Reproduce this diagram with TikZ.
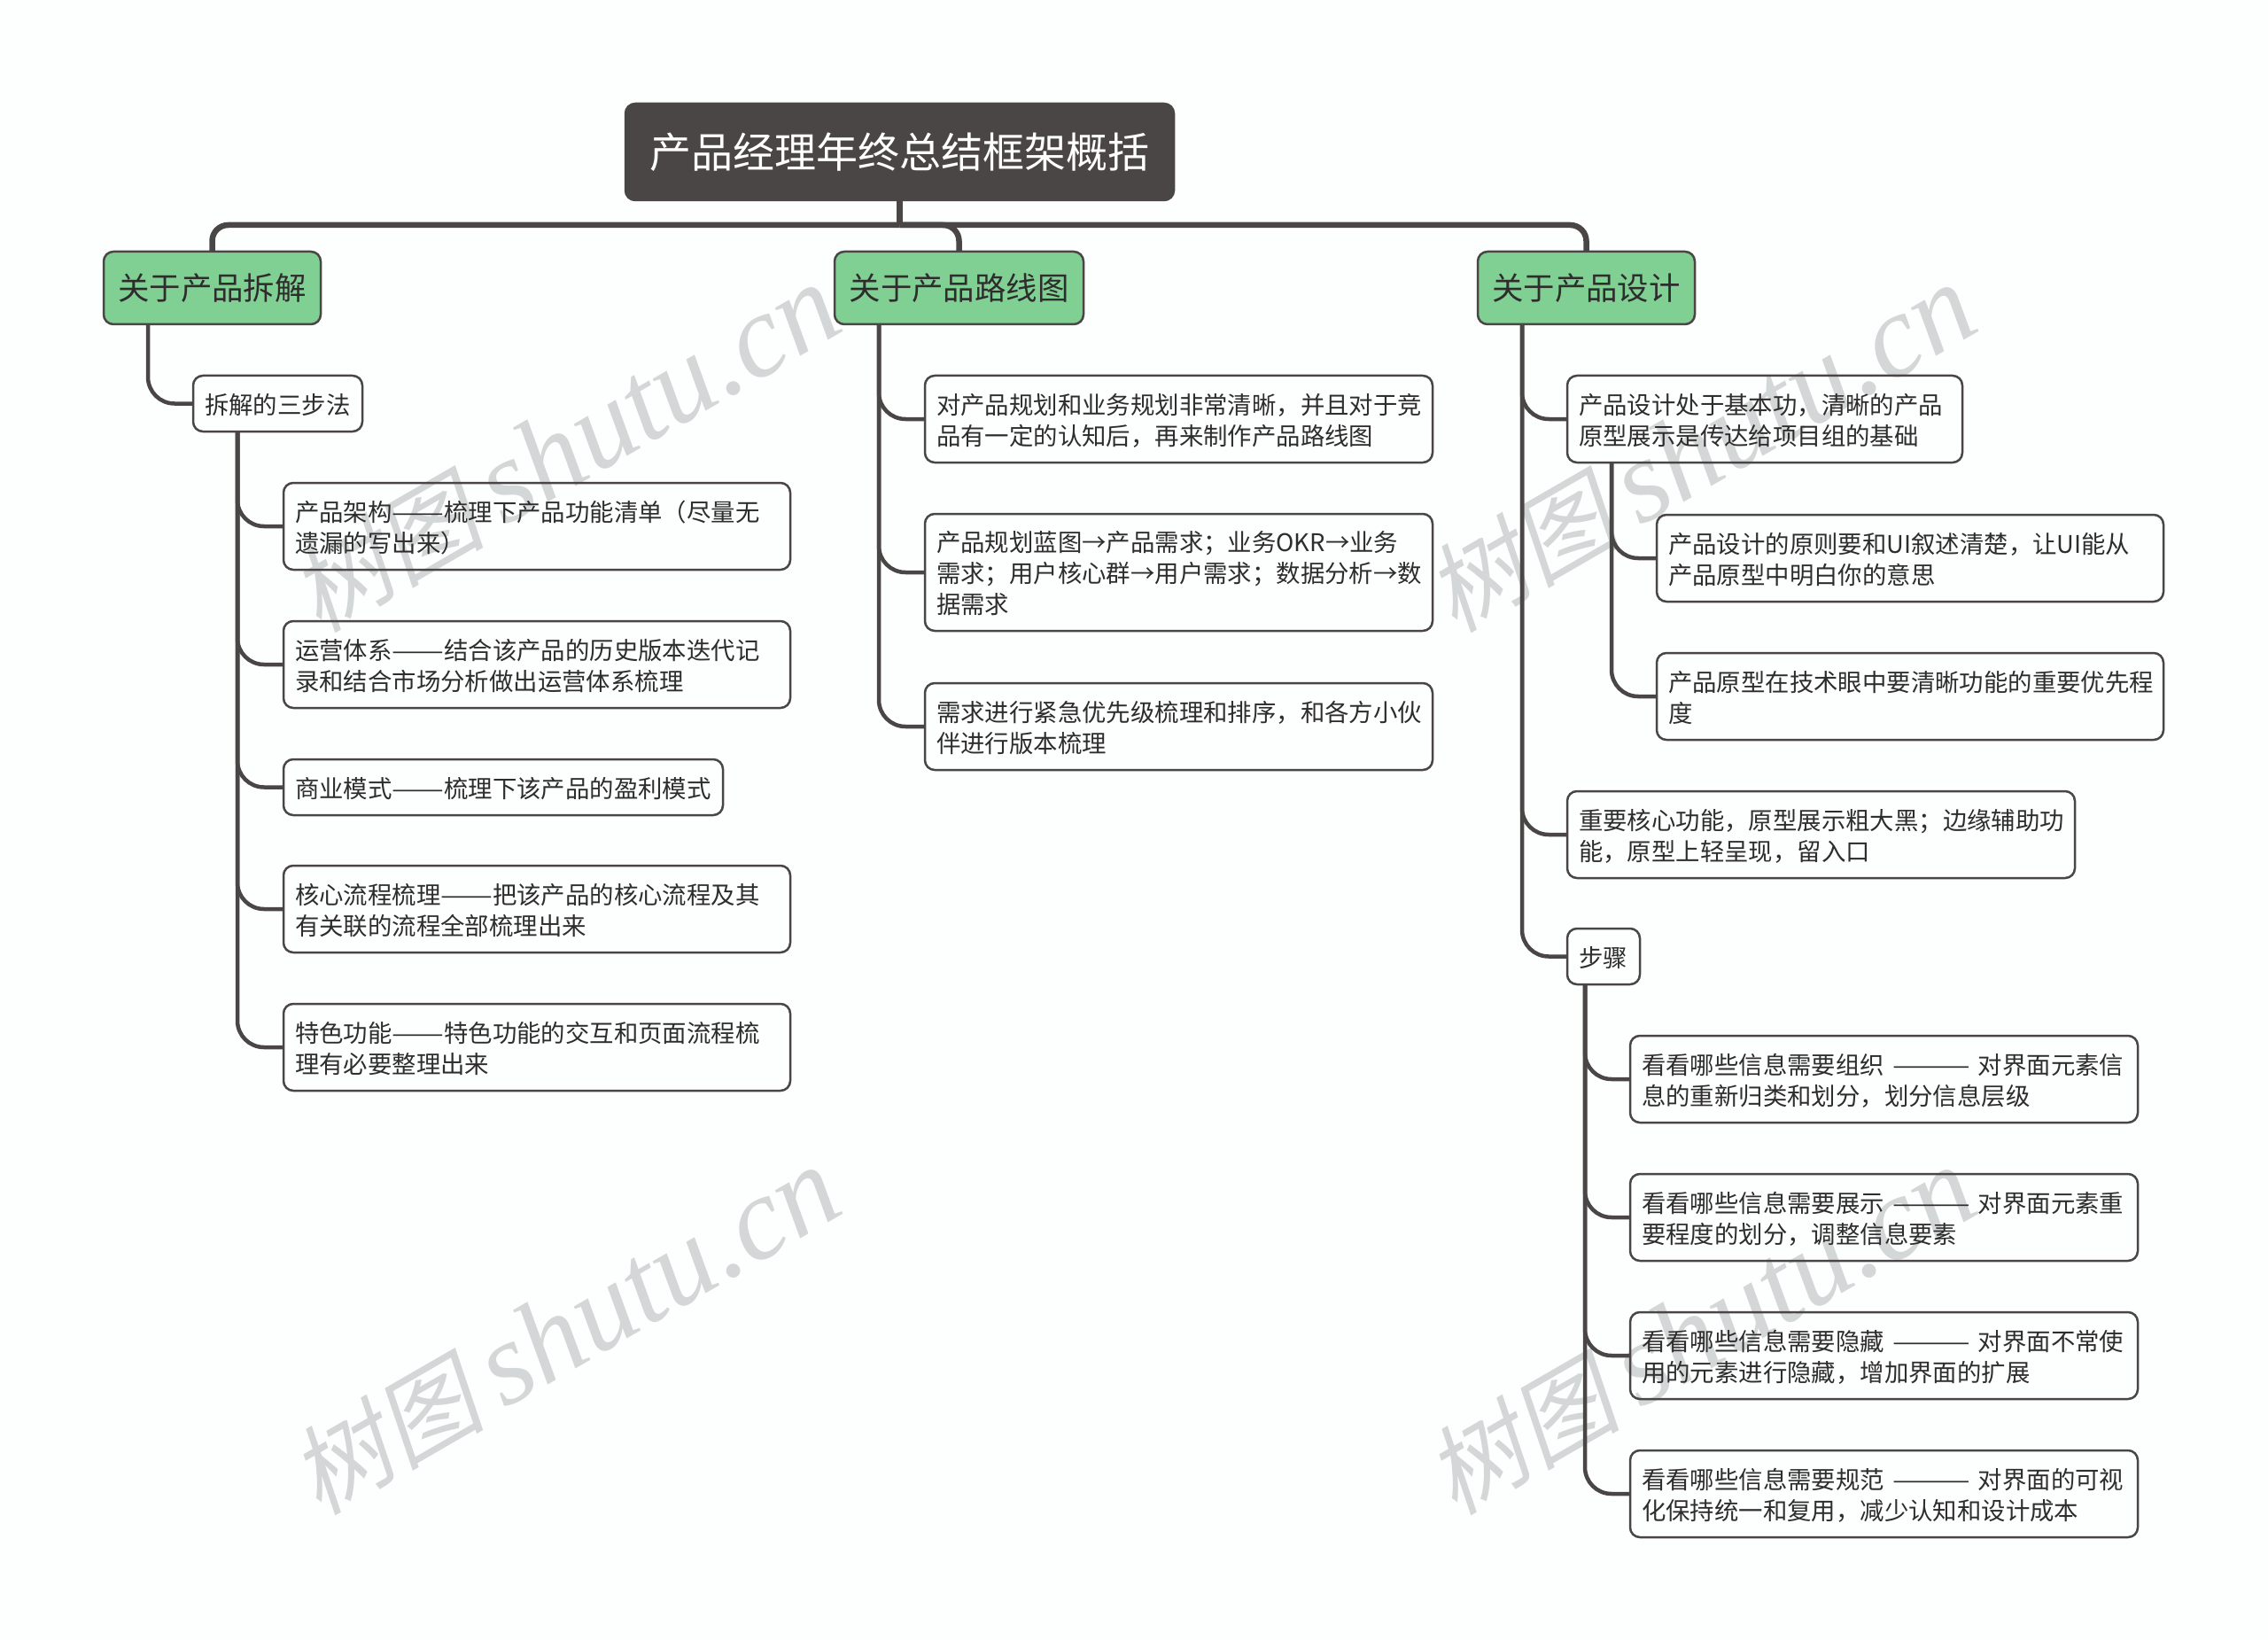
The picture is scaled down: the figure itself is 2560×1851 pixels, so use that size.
\documentclass[tikz,border=0pt]{standalone}
\usepackage{graphicx}
\usepackage{fontspec}
\setmainfont{Noto Sans CJK SC}
\newfontfamily\markcjk[FakeSlant=0.2]{Noto Sans CJK SC}
\newfontfamily\marklatin{Liberation Serif}
\usepackage{tikz}
\definecolor{slate}{HTML}{4B4646}
\definecolor{leafgreen}{HTML}{80CF93}
\definecolor{paper}{HTML}{FCFFFE}
\definecolor{markgray}{HTML}{D3D7D7}
\definecolor{inktext}{HTML}{2E2C2C}
\newcommand{\twodash}{\scalebox{1.28}[1]{——}}
\newcommand{\threedash}{\scalebox{1.3}[1]{———}}
\tikzset{
  rootbox/.style={draw=slate, fill=slate, line width=2.5pt, rounded corners=11pt, text=white,
    minimum width=619pt, minimum height=109pt, inner sep=0pt, outer sep=0pt,
    font=\fontsize{47}{56}\selectfont},
  topicbox/.style={draw=slate, fill=leafgreen, line width=2.5pt, rounded corners=11pt, text=inktext,
    minimum height=82pt, inner sep=0pt, outer sep=0pt, anchor=north west,
    font=\fontsize{35.4}{44}\selectfont},
  leafbox/.style={draw=slate, line width=2.5pt, rounded corners=11pt, text=inktext,
    minimum height=98pt, inner xsep=13pt, inner ysep=0pt, outer sep=0pt, anchor=north west,
    align=left, font=\fontsize{27.4}{35}\selectfont,
    execute at begin node=\rule{0pt}{26pt}},
  shortbox/.style={leafbox, minimum height=63pt},
  bigwire/.style={draw=slate, line width=6.5pt, rounded corners=18pt},
  wire/.style={draw=slate, line width=4.5pt, rounded corners=30pt},
  markbox/.style={text=markgray, rotate=30, anchor=base west, inner sep=0pt,
    font=\fontsize{133}{133}\selectfont}
}
\begin{document}
\begin{tikzpicture}[x=1pt, y=-1pt]
  \fill[paper] (0,0) rectangle (2560,1851);
  \useasboundingbox (0,0) rectangle (2560,1851);
  % watermarks sit under the boxes
  \foreach \name/\px/\py in {a/360/716, b/1642/716, c/360/1712, d/1642/1712}
    \node[markbox] (mark\name) at (\px,\py) {{\fontsize{110}{133}\selectfont\markcjk 树图}\hspace{22pt}{\marklatin\itshape shutu.cn}};

  \node[rootbox] (root) at (1015.5,171.5) {产品经理年终总结框架概括};
  \node[topicbox, minimum width=245pt] (teardown) at (117,284) {关于产品拆解};
  \node[topicbox, minimum width=281pt] (roadmap) at (942,284) {关于产品路线图};
  \node[topicbox, minimum width=245pt] (design) at (1668,284) {关于产品设计};

  % left branch
  \node[shortbox, text width=165pt] (threesteps) at (218,424) {拆解的三步法};
  \node[leafbox, text width=546pt] (arch) at (320,545) {产品架构\twodash 梳理下产品功能清单（尽量无\\遗漏的写出来）};
  \node[leafbox, text width=546pt] (ops) at (320,701) {运营体系\twodash 结合该产品的历史版本迭代记\\录和结合市场分析做出运营体系梳理};
  \node[shortbox, text width=470pt] (biz) at (320,857) {商业模式\twodash 梳理下该产品的盈利模式};
  \node[leafbox, text width=546pt] (flow) at (320,977) {核心流程梳理\twodash 把该产品的核心流程及其\\有关联的流程全部梳理出来};
  \node[leafbox, text width=546pt] (feature) at (320,1133) {特色功能\twodash 特色功能的交互和页面流程梳\\理有必要整理出来};

  % middle branch
  \node[leafbox, text width=547pt] (planning) at (1044,424) {对产品规划和业务规划非常清晰，并且对于竞\\品有一定的认知后，再来制作产品路线图};
  \node[leafbox, text width=547pt, minimum height=132pt] (blueprint) at (1044,580) {产品规划蓝图→产品需求；业务OKR→业务\\需求；用户核心群→用户需求；数据分析→数\\据需求};
  \node[leafbox, text width=547pt] (priority) at (1044,771) {需求进行紧急优先级梳理和排序，和各方小伙\\伴进行版本梳理};

  % right branch
  \node[leafbox, text width=420pt] (basics) at (1769,424) {产品设计处于基本功，清晰的产品\\原型展示是传达给项目组的基础};
  \node[leafbox, text width=546pt] (principle) at (1870,581) {产品设计的原则要和UI叙述清楚，让UI能从\\产品原型中明白你的意思};
  \node[leafbox, text width=546pt] (rank) at (1870,737) {产品原型在技术眼中要清晰功能的重要优先程\\度};
  \node[leafbox, text width=547pt] (core) at (1769,893) {重要核心功能，原型展示粗大黑；边缘辅助功\\能，原型上轻呈现，留入口};
  \node[shortbox, text width=56pt] (stepnote) at (1769,1048) {步骤};
  \node[leafbox, text width=547pt] (organize) at (1840,1169) {看看哪些信息需要组织 \threedash{} 对界面元素信\\息的重新归类和划分，划分信息层级};
  \node[leafbox, text width=547pt] (show) at (1840,1325) {看看哪些信息需要展示 \threedash{} 对界面元素重\\要程度的划分，调整信息要素};
  \node[leafbox, text width=547pt] (hide) at (1840,1481) {看看哪些信息需要隐藏 \threedash{} 对界面不常使\\用的元素进行隐藏，增加界面的扩展};
  \node[leafbox, text width=547pt] (norm) at (1840,1637) {看看哪些信息需要规范 \threedash{} 对界面的可视\\化保持统一和复用，减少认知和设计成本};

  % connectors
  \coordinate (bus) at ([yshift=-28pt]root.south);
  \draw[bigwire] (root.south) -- (bus);
  \foreach \kid in {teardown, roadmap, design}
    \draw[bigwire] (bus) -| (\kid.north);
  \foreach \dad/\kid in {teardown/threesteps, threesteps/arch, threesteps/ops, threesteps/biz,
      threesteps/flow, threesteps/feature, roadmap/planning, roadmap/blueprint, roadmap/priority,
      design/basics, design/core, design/stepnote, basics/principle, basics/rank}
    \draw[wire] ([xshift=50pt]\dad.south west) |- (\kid.west);
  \foreach \kid in {organize, show, hide, norm}
    \draw[wire] ([xshift=20pt]stepnote.south west) |- (\kid.west);
\end{tikzpicture}
\end{document}
